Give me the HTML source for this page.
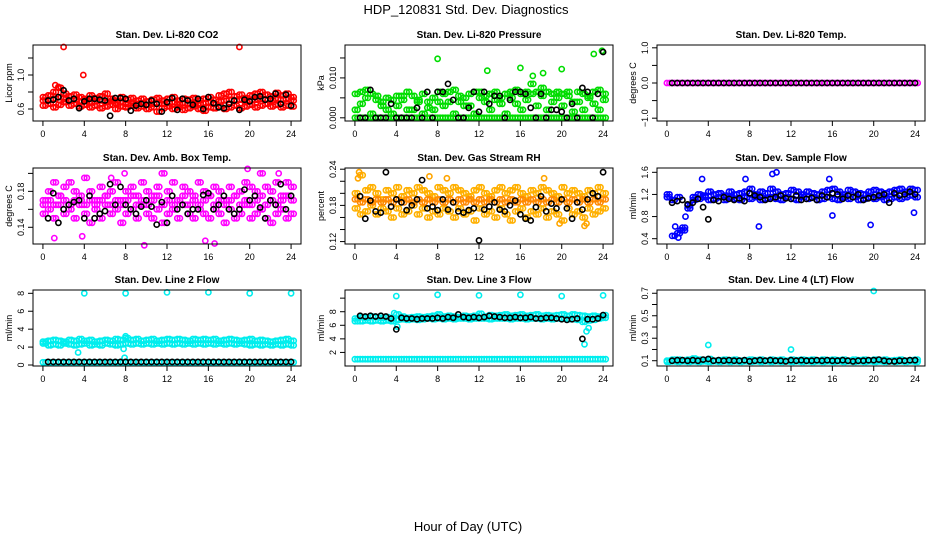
<!DOCTYPE html>
<html><head><meta charset="utf-8">
<style>
html,body{margin:0;padding:0;background:#fff;}
svg{display:block;font-family:"Liberation Sans",sans-serif;}
</style></head>
<body>
<svg id="chart" width="936" height="540" viewBox="0 0 936 540" xmlns="http://www.w3.org/2000/svg">
<text x="466" y="14" text-anchor="middle" font-size="13">HDP_120831  Std. Dev. Diagnostics</text>
<text x="468" y="531" text-anchor="middle" font-size="13">Hour of Day (UTC)</text>
</svg>
<script>
const hours = [0,0.5,1,1.5,2,2.5,3,3.5,4,4.5,5,5.5,6,6.5,7,7.5,8,8.5,9,9.5,10,10.5,11,11.5,12,12.5,13,13.5,14,14.5,15,15.5,16,16.5,17,17.5,18,18.5,19,19.5,20,20.5,21,21.5,22,22.5,23,23.5,24];
const xTicks = [0,4,8,12,16,20,24];

// Panel 1 CO2
const co2A = [0.74,0.76,0.80,0.85,0.78,0.75,0.77,0.74,0.72,0.76,0.73,0.75,0.78,0.72,0.70,0.74,0.71,0.73,0.70,0.72,0.69,0.71,0.73,0.70,0.72,0.74,0.70,0.72,0.71,0.73,0.70,0.72,0.74,0.71,0.76,0.78,0.80,0.75,0.77,0.73,0.76,0.78,0.80,0.77,0.75,0.79,0.76,0.78,0.74];
const co2B = [0.64,0.66,0.62,0.65,0.68,0.64,0.66,0.63,0.65,0.62,0.64,0.61,0.63,0.65,0.60,0.63,0.62,0.64,0.61,0.63,0.60,0.62,0.57,0.61,0.63,0.60,0.62,0.59,0.61,0.63,0.60,0.58,0.62,0.61,0.63,0.60,0.62,0.64,0.61,0.63,0.65,0.62,0.64,0.66,0.63,0.65,0.62,0.64,0.63];
const co2C = [0.70,0.71,0.72,0.74,0.72,0.70,0.71,0.69,0.70,0.68,0.69,0.70,0.68,0.69,0.67,0.68,0.66,0.67,0.66,0.67,0.65,0.66,0.67,0.66,0.67,0.68,0.66,0.67,0.66,0.67,0.66,0.67,0.68,0.66,0.69,0.70,0.71,0.70,0.71,0.69,0.70,0.71,0.72,0.71,0.70,0.72,0.71,0.72,0.70];
const co2K = [0.70,0.70,0.71,0.74,0.82,0.70,0.72,0.61,0.69,0.72,0.72,0.71,0.70,0.52,0.73,0.73,0.72,0.58,0.64,0.66,0.65,0.70,0.66,0.57,0.68,0.73,0.59,0.72,0.70,0.65,0.72,0.60,0.74,0.67,0.62,0.61,0.66,0.70,0.59,0.71,0.69,0.74,0.75,0.71,0.72,0.78,0.66,0.77,0.64];
const co2OutH = [2,19,3.9,1.2,1.5];
const co2OutV = [1.33,1.33,1.0,0.88,0.86];

// Panel 2 Pressure
const prsZ = [0,0,0,0,0,0,0,0,0,0,0,0,0,0,0,0,0,0,0,0,0,0,0,0,0,0,0,0,0,0,0,0,0,0,0,0,0,0,0,0,0,0,0,0,0,0,0,0,0];
const prsA = [0.006,0.0065,0.007,0.006,0.0045,0.003,0.002,0.0045,0.003,0.0055,0.0065,0.002,0.004,0.006,0.0025,0.005,0.0065,0.006,0.004,0.007,0.0055,0.003,0.006,0.0065,0.005,0.004,0.006,0.0065,0.005,0.006,0.0065,0.007,0.006,0.0045,0.0085,0.0065,0.0055,0.0065,0.004,0.0065,0.006,0.0055,0.004,0.0065,0.006,0.0055,0.0065,0.007,0.006];
const prsB = [0.002,0.0035,0.005,0.001,0.0055,0.004,0.005,0.001,0.0055,0.0045,0.002,0.0055,0.0045,0.001,0.004,0.002,0.004,0.003,0.0065,0.001,0.004,0.005,0.003,0.001,0.0065,0.0055,0.002,0.0045,0.0035,0.001,0.005,0.0035,0.002,0.0065,0.006,0.003,0.0075,0.002,0.006,0.005,0.003,0.0065,0.0015,0.004,0.002,0.005,0.0035,0.002,0.0045];
const prsK = [0,0,0,0.007,0,0,0,0.0035,0,0,0,0,0.0025,0,0.0065,0,0.0065,0.0065,0.0085,0.0045,0,0,0.0025,0.0065,0.0015,0.0065,0.0035,0.0055,0.0055,0,0.0045,0.0065,0.0065,0.006,0.0025,0,0.006,0,0.002,0.002,0.0015,0,0.0035,0,0.0075,0.0065,0,0.006,0.0165];
const prsOutH = [8,12.8,16,20,23.1,23.9,17.2,18.2];
const prsOutV = [0.0148,0.0118,0.0125,0.0122,0.016,0.0168,0.0105,0.0112];

// Panel 3 Temp
const tmpC = [0,0,0,0,0,0,0,0,0,0,0,0,0,0,0,0,0,0,0,0,0,0,0,0,0,0,0,0,0,0,0,0,0,0,0,0,0,0,0,0,0,0,0,0,0,0,0,0,0];
const tmpK = [0,0,0,0,0,0,0,0,0,0,0,0,0,0,0,0,0,0,0,0,0,0,0,0,0,0,0,0,0,0,0,0,0,0,0,0,0,0,0,0,0,0,0,0,0,0,0,0,0];

// Panel 4 Amb box temp
const ambA = [0.17,0.18,0.19,0.175,0.185,0.19,0.18,0.17,0.195,0.18,0.17,0.185,0.175,0.18,0.19,0.17,0.18,0.185,0.175,0.19,0.18,0.175,0.185,0.2,0.18,0.19,0.17,0.185,0.18,0.175,0.19,0.18,0.175,0.185,0.18,0.17,0.185,0.175,0.18,0.19,0.185,0.18,0.2,0.185,0.18,0.19,0.175,0.19,0.185];
const ambB = [0.155,0.16,0.15,0.165,0.155,0.16,0.15,0.165,0.155,0.145,0.16,0.15,0.165,0.155,0.16,0.145,0.155,0.16,0.15,0.165,0.155,0.15,0.16,0.145,0.155,0.16,0.15,0.165,0.155,0.15,0.16,0.155,0.15,0.16,0.155,0.145,0.16,0.15,0.155,0.165,0.15,0.155,0.16,0.15,0.145,0.155,0.16,0.15,0.155];
const ambC = [0.165,0.17,0.165,0.175,0.17,0.165,0.17,0.175,0.165,0.17,0.165,0.17,0.175,0.165,0.17,0.165,0.17,0.175,0.165,0.17,0.165,0.17,0.175,0.165,0.17,0.165,0.17,0.175,0.165,0.17,0.165,0.17,0.175,0.165,0.17,0.165,0.17,0.175,0.165,0.17,0.165,0.17,0.175,0.165,0.17,0.165,0.17,0.175,0.17];
const ambK = [0.15,0.15,0.178,0.145,0.16,0.165,0.168,0.17,0.15,0.175,0.15,0.155,0.158,0.188,0.165,0.185,0.165,0.16,0.155,0.163,0.17,0.163,0.143,0.168,0.145,0.175,0.16,0.165,0.155,0.16,0.16,0.176,0.178,0.16,0.165,0.175,0.16,0.155,0.16,0.182,0.17,0.175,0.162,0.15,0.17,0.165,0.188,0.16,0.175];
const ambOutH = [1.1,3.8,9.8,15.7,16.6,19.8,22.8,6.6,7.9];
const ambOutV = [0.128,0.13,0.12,0.125,0.122,0.205,0.2,0.195,0.2];

// Panel 5 Gas stream RH
const rhA = [0.2,0.23,0.205,0.21,0.2,0.19,0.205,0.2,0.21,0.195,0.205,0.2,0.21,0.205,0.2,0.195,0.21,0.205,0.2,0.21,0.205,0.2,0.195,0.205,0.21,0.2,0.195,0.205,0.21,0.2,0.205,0.21,0.2,0.195,0.205,0.2,0.21,0.205,0.2,0.195,0.21,0.2,0.205,0.2,0.195,0.205,0.2,0.21,0.2];
const rhB = [0.175,0.165,0.17,0.18,0.165,0.175,0.17,0.16,0.175,0.165,0.17,0.18,0.165,0.175,0.16,0.17,0.165,0.175,0.17,0.16,0.175,0.165,0.17,0.155,0.175,0.165,0.17,0.16,0.175,0.165,0.155,0.17,0.175,0.16,0.17,0.165,0.175,0.16,0.17,0.165,0.155,0.175,0.165,0.17,0.16,0.175,0.165,0.17,0.175];
const rhC = [0.19,0.185,0.19,0.185,0.19,0.185,0.19,0.185,0.19,0.185,0.19,0.185,0.19,0.185,0.19,0.185,0.19,0.185,0.19,0.185,0.19,0.185,0.19,0.185,0.19,0.185,0.19,0.185,0.19,0.185,0.19,0.185,0.19,0.185,0.19,0.185,0.19,0.185,0.19,0.185,0.19,0.185,0.19,0.185,0.19,0.185,0.19,0.185,0.19];
const rhK = [0.16,0.195,0.158,0.188,0.17,0.168,0.235,0.178,0.19,0.185,0.172,0.18,0.19,0.222,0.175,0.178,0.172,0.19,0.173,0.185,0.17,0.168,0.172,0.175,0.122,0.173,0.178,0.185,0.173,0.17,0.18,0.188,0.165,0.158,0.155,0.177,0.195,0.17,0.183,0.175,0.19,0.175,0.158,0.185,0.173,0.19,0.2,0.195,0.235];
const rhOutH = [0.3,0.4,7.2,8.9,18.3,19.8,22.2,22.4];
const rhOutV = [0.225,0.235,0.228,0.225,0.225,0.15,0.146,0.15];

// Panel 6 Sample flow
const sfA = [1.2,0.45,0.5,0.6,1.0,1.15,1.2,1.18,1.25,1.2,1.22,1.18,1.25,1.2,1.22,1.25,1.3,1.2,1.25,1.22,1.3,1.25,1.2,1.22,1.28,1.25,1.2,1.25,1.22,1.2,1.25,1.28,1.3,1.25,1.2,1.28,1.25,1.22,1.2,1.25,1.28,1.25,1.22,1.25,1.28,1.3,1.25,1.3,1.28];
const sfB = [1.15,1.1,1.15,0.55,0.95,1.1,1.12,1.15,1.1,1.12,1.15,1.1,1.15,1.12,1.1,1.15,1.12,1.15,1.1,1.12,1.15,1.12,1.1,1.15,1.12,1.1,1.15,1.12,1.15,1.1,1.12,1.15,1.12,1.1,1.15,1.12,1.15,1.1,1.12,1.15,1.12,1.15,1.1,1.12,1.15,1.12,1.15,1.18,1.15];
const sfK = [1.1,1.05,1.08,1.1,1.02,1.05,1.12,0.97,0.75,1.1,1.08,1.15,1.12,1.1,1.13,1.08,1.22,1.18,1.15,1.1,1.12,1.15,1.18,1.13,1.12,1.18,1.1,1.12,1.14,1.1,1.18,1.15,1.22,1.2,1.12,1.18,1.15,1.2,1.1,1.13,1.15,1.18,1.2,1.05,1.22,1.18,1.2,1.25,1.2];
const sfOutH = [7.6,10.2,10.6,15.7,16,19.7,23.9,8.9,3.4,1.8,0.8,1.1,1.3];
const sfOutV = [1.48,1.57,1.6,1.48,0.82,0.65,0.87,0.62,1.48,0.8,0.62,0.42,0.55];

// Panel 7 Line 2 flow
const l2A = [2.6,2.7,2.8,2.7,2.6,2.8,2.7,2.9,2.7,2.8,2.6,2.7,2.8,2.7,2.9,2.8,3.0,2.8,2.9,2.7,2.8,2.9,2.7,2.8,2.9,2.8,2.9,2.8,2.7,2.9,2.8,2.9,2.8,2.9,2.7,2.8,2.9,2.8,2.7,2.8,2.9,2.7,2.8,2.7,2.6,2.7,2.8,2.9,2.7];
const l2B = [2.4,2.2,2.3,2.2,2.4,2.3,2.2,2.3,2.4,2.2,2.3,2.2,2.4,2.3,2.2,2.3,2.4,2.3,2.4,2.3,2.4,2.3,2.4,2.3,2.4,2.3,2.4,2.3,2.4,2.3,2.4,2.3,2.4,2.3,2.4,2.3,2.4,2.3,2.4,2.3,2.2,2.3,2.2,2.3,2.2,2.3,2.2,2.3,2.2];
const l2C = [0.3,0.3,0.3,0.3,0.3,0.3,0.3,0.3,0.3,0.3,0.3,0.3,0.3,0.3,0.3,0.3,0.3,0.3,0.3,0.3,0.3,0.3,0.3,0.3,0.3,0.3,0.3,0.3,0.3,0.3,0.3,0.3,0.3,0.3,0.3,0.3,0.3,0.3,0.3,0.3,0.3,0.3,0.3,0.3,0.3,0.3,0.3,0.3,0.3];
const l2K = [0.35,0.35,0.35,0.35,0.35,0.35,0.35,0.35,0.35,0.35,0.35,0.35,0.35,0.35,0.35,0.35,0.35,0.35,0.35,0.35,0.35,0.35,0.35,0.35,0.35,0.35,0.35,0.35,0.35,0.35,0.35,0.35,0.35,0.35,0.35,0.35,0.35,0.35,0.35,0.35,0.35,0.35,0.35,0.35,0.35,0.35,0.35,0.35,0.35];
const l2OutH = [4,8,12,16,20,24,3.4,7.8,7.9,8];
const l2OutV = [8,8,8.1,8.1,8,8,1.4,1.8,0.8,3.2];

// Panel 8 Line 3 flow
const l3A = [7.0,7.2,7.1,7.3,7.2,7.1,7.2,7.0,7.6,7.3,7.1,7.2,7.3,7.2,7.3,7.4,7.6,7.3,7.4,7.3,7.2,7.4,7.3,7.4,7.7,7.3,7.5,7.4,7.5,7.6,7.4,7.5,7.6,7.4,7.5,7.6,7.4,7.5,7.4,7.5,7.6,7.4,7.6,7.5,7.4,7.3,7.4,7.3,7.5];
const l3B = [6.6,6.6,6.7,6.6,6.7,6.6,6.7,6.6,6.8,6.9,6.8,6.9,6.8,6.9,7.0,6.9,7.0,6.9,7.0,6.9,7.0,7.0,6.9,7.0,7.0,7.0,6.9,7.0,7.0,7.0,6.9,7.0,7.0,6.9,7.0,7.0,6.9,7.0,6.9,7.0,7.0,6.9,6.9,6.8,6.5,6.7,6.8,7.0,7.1];
const l3C = [1.0,1.0,1.0,1.0,1.0,1.0,1.0,1.0,1.0,1.0,1.0,1.0,1.0,1.0,1.0,1.0,1.0,1.0,1.0,1.0,1.0,1.0,1.0,1.0,1.0,1.0,1.0,1.0,1.0,1.0,1.0,1.0,1.0,1.0,1.0,1.0,1.0,1.0,1.0,1.0,1.0,1.0,1.0,1.0,1.0,1.0,1.0,1.0,1.0];
const l3K = [7.3,7.4,7.3,7.4,7.3,7.4,7.3,7.0,5.4,7.1,7.0,7.0,6.9,7.0,7.0,7.0,7.1,7.0,7.2,7.1,7.6,7.2,7.1,7.2,7.1,7.2,7.4,7.3,7.2,7.1,7.1,7.2,7.1,7.1,7.2,7.0,7.0,7.1,7.1,7.0,6.9,6.8,6.9,7.0,4.0,6.9,6.9,7.0,7.5];
const l3OutH = [4,8,12,16,20,24,4.1,22.2,22.4,22.6,3.8];
const l3OutV = [10.3,10.5,10.4,10.5,10.3,10.4,5.8,3.2,5.1,5.6,7.8];

// Panel 9 Line 4 flow
const l4A = [0.1,0.11,0.11,0.105,0.11,0.12,0.11,0.105,0.115,0.1,0.105,0.11,0.105,0.11,0.1,0.105,0.11,0.105,0.11,0.1,0.11,0.105,0.11,0.1,0.11,0.105,0.11,0.105,0.11,0.1,0.11,0.105,0.11,0.105,0.11,0.1,0.11,0.105,0.11,0.1,0.11,0.105,0.11,0.1,0.105,0.11,0.1,0.105,0.11];
const l4B = [0.09,0.095,0.09,0.095,0.09,0.095,0.09,0.095,0.09,0.095,0.09,0.095,0.09,0.095,0.09,0.095,0.09,0.095,0.09,0.095,0.09,0.095,0.09,0.095,0.09,0.095,0.09,0.095,0.09,0.095,0.09,0.095,0.09,0.095,0.09,0.095,0.09,0.095,0.09,0.095,0.09,0.095,0.09,0.095,0.09,0.095,0.09,0.095,0.09];
const l4K = [0.1,0.1,0.105,0.105,0.1,0.105,0.1,0.11,0.115,0.1,0.105,0.1,0.105,0.1,0.1,0.105,0.095,0.1,0.105,0.1,0.105,0.1,0.1,0.095,0.105,0.1,0.105,0.1,0.1,0.105,0.1,0.105,0.1,0.1,0.105,0.1,0.095,0.1,0.1,0.105,0.105,0.11,0.1,0.095,0.095,0.1,0.1,0.105,0.105];
const l4OutH = [4,12,20];
const l4OutV = [0.24,0.2,0.72];

const panels = [
 {name:'co2',title:'Stan. Dev. Li-820 CO2',ylab:'Licor ppm',col:0,row:0,ylim:[0.459,1.353],ticks:[0.6,0.8,1.0,1.2],labels:['0.6','','1.0',''],
  series:[[co2A,'#ff0000'],[co2B,'#ff0000'],[co2C,'#ff0000']],out:[co2OutH,co2OutV,'#ff0000'],black:co2K},
 {name:'pressure',title:'Stan. Dev. Li-820 Pressure',ylab:'kPa',col:1,row:0,ylim:[-0.0008,0.01825],ticks:[0,0.005,0.01,0.015],labels:['0.000','','0.010',''],
  series:[[prsZ,'#00dd00'],[prsA,'#00dd00'],[prsB,'#00dd00']],out:[prsOutH,prsOutV,'#00dd00'],black:prsK},
 {name:'temp',title:'Stan. Dev. Li-820 Temp.',ylab:'degrees C',col:2,row:0,ylim:[-1.08,1.08],ticks:[-1,-0.5,0,0.5,1],labels:['\u22121.0','','0.0','','1.0'],
  series:[[tmpC,'#ff00ff']],out:[[],[],'#ff00ff'],black:tmpK},
 {name:'amb-temp',title:'Stan. Dev. Amb. Box Temp.',ylab:'degrees C',col:0,row:1,ylim:[0.1214,0.206],ticks:[0.14,0.16,0.18,0.2],labels:['0.14','','0.18',''],
  series:[[ambA,'#ff00ff'],[ambB,'#ff00ff'],[ambC,'#ff00ff']],out:[ambOutH,ambOutV,'#ff00ff'],black:ambK},
 {name:'rh',title:'Stan. Dev. Gas Stream RH',ylab:'percent',col:1,row:1,ylim:[0.116,0.242],ticks:[0.12,0.14,0.16,0.18,0.2,0.22,0.24],labels:['0.12','','','0.18','','','0.24'],
  series:[[rhA,'#ffb000'],[rhB,'#ffb000'],[rhC,'#ff8800']],out:[rhOutH,rhOutV,'#ffa500'],black:rhK},
 {name:'sample-flow',title:'Stan. Dev. Sample Flow',ylab:'ml/min',col:2,row:1,ylim:[0.304,1.678],ticks:[0.4,0.8,1.2,1.6],labels:['0.4','0.8','1.2','1.6'],
  series:[[sfA,'#0000ff'],[sfB,'#0000ff']],out:[sfOutH,sfOutV,'#0000ff'],black:sfK},
 {name:'line2',title:'Stan. Dev. Line 2 Flow',ylab:'ml/min',col:0,row:2,ylim:[-0.11,8.37],ticks:[0,2,4,6,8],labels:['0','2','4','6','8'],
  series:[[l2A,'#00eeee'],[l2B,'#00eeee'],[l2C,'#00eeee']],out:[l2OutH,l2OutV,'#00eeee'],black:l2K},
 {name:'line3',title:'Stan. Dev. Line 3 Flow',ylab:'ml/min',col:1,row:2,ylim:[0.0,11.2],ticks:[2,4,6,8,10],labels:['2','4','6','8',''],
  series:[[l3A,'#00eeee'],[l3B,'#00eeee'],[l3C,'#00eeee']],out:[l3OutH,l3OutV,'#00eeee'],black:l3K},
 {name:'line4',title:'Stan. Dev. Line 4 (LT) Flow',ylab:'ml/min',col:2,row:2,ylim:[0.053,0.729],ticks:[0.1,0.2,0.3,0.4,0.5,0.6,0.7],labels:['0.1','','0.3','','0.5','','0.7'],
  series:[[l4A,'#00eeee'],[l4B,'#00eeee']],out:[l4OutH,l4OutV,'#00eeee'],black:l4K}
];

const NS='http://www.w3.org/2000/svg';
const svg=document.getElementById('chart');
const colX=[33,345,657], rowY=[45,168,290], W=268, Hh=76;
function mk(tag,attrs,parent){const e=document.createElementNS(NS,tag);for(const k in attrs)e.setAttribute(k,attrs[k]);parent.appendChild(e);return e;}

panels.forEach(p=>{
  const x0=colX[p.col], y0=rowY[p.row];
  const g=mk('g',{},svg);
  
  
  const xs=h=>x0+(h+0.96)/25.92*W;
  const ys=v=>y0+Hh-(v-p.ylim[0])/(p.ylim[1]-p.ylim[0])*Hh;
  const t=mk('text',{x:x0+W/2,y:y0-7,'text-anchor':'middle','font-size':'10','font-weight':'bold'},g);
  t.textContent=p.title;
  
  
  // points
  const pts=mk('g',{fill:'none','stroke-width':'1.6'},g);
  
  
  p.series.forEach(([arr,c])=>{
    arr.forEach((v,i)=>{
      const cc=mk('circle',{cx:xs(hours[i]).toFixed(1),cy:ys(v).toFixed(1),r:'2.6',stroke:c},pts);
      
      
      const cc2=mk('circle',{cx:(xs(hours[i])+2.6).toFixed(1),cy:ys(v).toFixed(1),r:'2.6',stroke:c},pts);
      
      
    });
  });
  p.out[0].forEach((h,i)=>{
    const cc=mk('circle',{cx:xs(h).toFixed(1),cy:ys(p.out[1][i]).toFixed(1),r:'2.6',stroke:p.out[2]},pts);
    
    
  });
  p.black.forEach((v,i)=>{
    if(i===0) return;
    const cc=mk('circle',{cx:xs(hours[i]).toFixed(1),cy:ys(v).toFixed(1),r:'2.6',stroke:'#000'},pts);
    
    
  });
  // box
  const b=mk('rect',{x:x0,y:y0,width:W,height:Hh,fill:'none',stroke:'#000','stroke-width':'1'},g);
  
  
  // x axis
  const xa=mk('g',{},g);
  
  
  xTicks.forEach(tv=>{
    const x=xs(tv);
    mk('line',{x1:x,x2:x,y1:y0+Hh,y2:y0+Hh+5,stroke:'#000'},xa);
    const tl=mk('text',{x:x,y:y0+Hh+16,'text-anchor':'middle','font-size':'9'},xa);
    tl.textContent=tv;
    
    
  });
  // y axis
  const ya=mk('g',{},g);
  
  
  p.ticks.forEach((tv,i)=>{
    const y=ys(tv);
    mk('line',{x1:x0-5,x2:x0,y1:y,y2:y,stroke:'#000'},ya);
    if(p.labels[i]){
      const tl=mk('text',{x:x0-9,y:y,'text-anchor':'middle','font-size':'9',transform:`rotate(-90 ${x0-9} ${y})`},ya);
      tl.textContent=p.labels[i];
      
      
    }
  });
  const yl=mk('text',{x:x0-21,y:y0+Hh/2,'text-anchor':'middle','font-size':'9',transform:`rotate(-90 ${x0-21} ${y0+Hh/2})`},g);
  yl.textContent=p.ylab;
  
  
});
</script>
</body></html>
